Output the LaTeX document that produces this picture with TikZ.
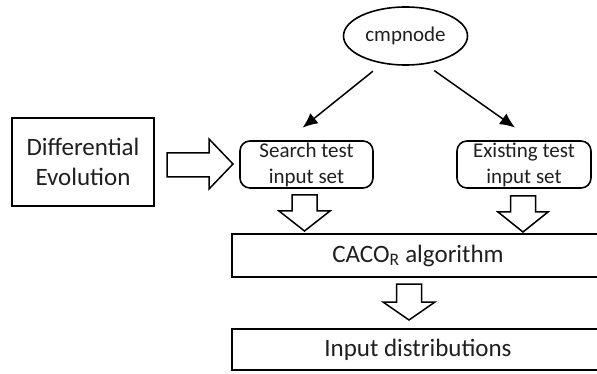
\documentclass[tikz,border=0pt]{standalone}
\usepackage{fontspec}
\setmainfont{Carlito}
\usetikzlibrary{arrows.meta,shapes.geometric}
\newcommand{\bigtext}{\fontsize{25}{30}\selectfont}
\newcommand{\smalltext}{\fontsize{21}{26}\selectfont}
\begin{document}
\begin{tikzpicture}[x=1pt,y=-1pt,
  box/.style={draw, line width=1.6pt, inner sep=0pt, align=center, font=\bigtext, text=black!88},
  rbox/.style={draw, line width=1.6pt, rounded corners=10pt, inner sep=0pt, align=center, font=\smalltext, text=black!88},
  oval/.style={draw, ellipse, line width=1.6pt, inner sep=0pt, font=\smalltext, text=black!88},
  conn/.style={line width=1.5pt, -{Latex[length=15pt,width=13pt]}},
  blockarrow/.style={draw, fill=white, line width=1.5pt, line join=miter}]
\useasboundingbox (0,0) rectangle (597,374);
\clip (0,0) rectangle (597,374);

% boxes
\node[box, minimum width=142pt, minimum height=88pt] (de) at (83,162) {Differential\\Evolution};
\node[oval, minimum width=124pt, minimum height=58pt] (cmp) at (405.5,36) {cmpnode};
\node[rbox, minimum width=133pt, minimum height=47pt] (search) at (306.5,164.5) {Search test\\input set};
\node[rbox, minimum width=134pt, minimum height=47pt] (exist) at (524,164.5) {Existing test\\input set};
\node[box, minimum width=372pt, minimum height=43pt] (caco) at (418,255.5) {CACO\textsubscript{R} algorithm};
\node[box, minimum width=372pt, minimum height=41pt] (dist) at (418,349.5) {Input distributions};

% thin connectors from cmpnode
\draw[conn, shorten <=12pt, shorten >=20pt] (cmp.230) -- ([xshift=-19.5pt]search.north);
\draw[conn, shorten <=11pt, shorten >=22pt] (cmp.305) -- ([xshift=9pt]exist.north);

% block arrows
\draw[blockarrow] (167,153) -- (209,153) -- (209,139) -- (233,164) -- (209,189) -- (209,177) -- (167,177) -- cycle;
\draw[blockarrow] (292,195) -- (317,195) -- (317,211) -- (330,211) -- (304.5,231) -- (279,211) -- (292,211) -- cycle;
\draw[blockarrow] (510.5,196) -- (535.5,196) -- (535.5,212) -- (548,212) -- (523,232) -- (498,212) -- (510.5,212) -- cycle;
\draw[blockarrow] (396.5,284) -- (421.5,284) -- (421.5,302) -- (435,302) -- (409,320) -- (383,302) -- (396.5,302) -- cycle;
\end{tikzpicture}
\end{document}
